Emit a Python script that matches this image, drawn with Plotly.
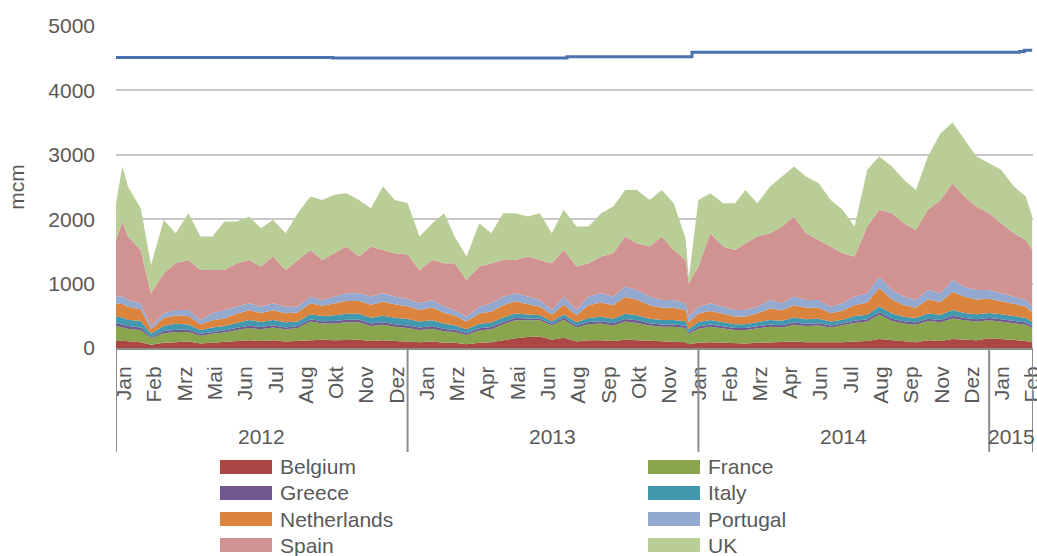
import datetime as dt
import plotly.graph_objects as go

# ---------------- data ----------------
dates = [
    "2012-01-01", "2012-01-09", "2012-01-16", "2012-02-01", "2012-02-14", "2012-03-01", "2012-03-16",
    "2012-04-01", "2012-04-16", "2012-05-01", "2012-05-16", "2012-06-01", "2012-06-16", "2012-07-01",
    "2012-07-16", "2012-08-01", "2012-08-16", "2012-09-01", "2012-09-16", "2012-10-01", "2012-10-16",
    "2012-11-01", "2012-11-16", "2012-12-01", "2012-12-16",
    "2013-01-01", "2013-01-16", "2013-02-01", "2013-02-16", "2013-03-01", "2013-03-16", "2013-04-01",
    "2013-04-16", "2013-05-01", "2013-05-16", "2013-06-01", "2013-06-16", "2013-07-01", "2013-07-16",
    "2013-08-01", "2013-08-16", "2013-09-01", "2013-09-16", "2013-10-01", "2013-10-16", "2013-11-01",
    "2013-11-16", "2013-12-01", "2013-12-16", "2013-12-20",
    "2014-01-01", "2014-01-16", "2014-02-01", "2014-02-16", "2014-03-01", "2014-03-16", "2014-04-01",
    "2014-04-16", "2014-05-01", "2014-05-16", "2014-06-01", "2014-06-16", "2014-07-01", "2014-07-16",
    "2014-08-01", "2014-08-16", "2014-09-01", "2014-09-16", "2014-10-01", "2014-10-16", "2014-11-01",
    "2014-11-16", "2014-12-01", "2014-12-16",
    "2015-01-01", "2015-01-16", "2015-02-01", "2015-02-16", "2015-02-24",
]

belgium = [120, 110, 100, 90, 50, 80, 90, 100, 70, 80, 90, 110, 120, 110, 120, 100, 110, 130, 130, 120, 130, 130, 110, 120, 110,
           100, 90, 100, 80, 80, 60, 80, 90, 120, 150, 170, 180, 130, 160, 100, 120, 120, 110, 130, 120, 110, 100, 100, 90, 60,
           80, 90, 80, 70, 70, 80, 90, 90, 100, 90, 90, 80, 90, 100, 110, 140, 120, 100, 90, 120, 110, 140, 130, 120,
           150, 140, 120, 110, 90]
france = [220, 210, 200, 190, 100, 150, 160, 150, 120, 140, 150, 170, 190, 180, 200, 190, 200, 280, 250, 260, 270, 270, 230, 240, 220,
          210, 190, 200, 180, 170, 140, 190, 200, 250, 280, 260, 250, 220, 280, 220, 250, 260, 240, 280, 270, 240, 230, 230, 220, 160,
          220, 240, 220, 210, 210, 220, 240, 230, 260, 250, 260, 240, 260, 290, 300, 380, 300, 280, 270, 300, 290, 320, 300, 290,
          280, 270, 260, 250, 220]
greece = [40, 45, 40, 40, 20, 35, 35, 35, 30, 30, 30, 35, 35, 35, 35, 30, 30, 35, 35, 40, 40, 40, 40, 40, 40,
          40, 40, 40, 35, 35, 30, 35, 35, 35, 35, 30, 30, 25, 30, 30, 35, 35, 35, 40, 40, 35, 35, 35, 35, 25,
          35, 35, 35, 30, 30, 35, 35, 35, 35, 35, 35, 30, 30, 35, 35, 40, 35, 35, 35, 35, 35, 40, 35, 35,
          35, 35, 35, 35, 30]
italy = [110, 110, 100, 100, 50, 80, 90, 80, 60, 70, 70, 80, 90, 80, 80, 80, 70, 80, 80, 90, 90, 90, 90, 100, 100,
         100, 90, 90, 80, 70, 60, 70, 70, 70, 70, 60, 50, 40, 50, 50, 60, 70, 70, 80, 80, 70, 70, 70, 70, 50,
         70, 70, 70, 60, 60, 70, 70, 70, 80, 70, 70, 60, 60, 70, 70, 90, 80, 70, 70, 80, 80, 90, 80, 80,
         80, 80, 80, 70, 60]
netherlands = [200, 210, 200, 180, 70, 120, 130, 130, 90, 110, 120, 140, 150, 140, 150, 140, 140, 170, 160, 180, 200, 200, 200, 220, 210,
               200, 180, 200, 170, 150, 120, 160, 170, 190, 190, 160, 130, 100, 150, 110, 200, 220, 210, 260, 240, 210, 190, 190, 170, 110,
               130, 140, 130, 120, 120, 130, 180, 160, 190, 180, 170, 130, 140, 170, 190, 280, 220, 180, 160, 220, 200, 280, 250, 230,
               220, 200, 190, 180, 150]
portugal = [108, 113, 106, 94, 42, 74, 85, 95, 65, 109, 130, 107, 109, 97, 109, 102, 92, 103, 91, 108, 120, 120, 128, 130, 118,
            110, 104, 116, 97, 85, 77, 107, 129, 133, 125, 118, 106, 75, 128, 80, 133, 145, 133, 163, 151, 133, 121, 121, 109, 82,
            107, 119, 107, 100, 100, 107, 131, 109, 133, 121, 121, 102, 114, 133, 145, 178, 146, 133, 121, 146, 135, 187, 158, 146,
            136, 125, 113, 101, 92]
spain = [880, 1165, 984, 829, 518, 621, 726, 778, 777, 673, 622, 674, 674, 622, 726, 570, 726, 725, 622, 673, 725, 570, 777, 673, 673,
         690, 518, 622, 674, 726, 570, 622, 622, 570, 518, 622, 622, 726, 725, 674, 518, 570, 673, 777, 726, 777, 984, 777, 674, 518,
         622, 1088, 933, 933, 1037, 1088, 1036, 1192, 1243, 1036, 932, 933, 777, 621, 1036, 1037, 1192, 1139, 1088, 1244, 1450, 1502, 1399, 1295,
         1192, 1087, 984, 932, 881]
uk = [570, 855, 777, 647, 440, 829, 466, 725, 518, 518, 751, 647, 673, 596, 570, 570, 725, 829, 932, 907, 829, 880, 595, 984, 829,
      800, 518, 569, 777, 414, 363, 673, 466, 725, 725, 621, 725, 466, 622, 622, 570, 673, 725, 725, 828, 725, 725, 725, 332, 78,
      1036, 622, 673, 725, 828, 518, 725, 776, 777, 880, 881, 725, 674, 467, 880, 828, 725, 674, 621, 828, 1036, 941, 880, 777,
      777, 829, 725, 674, 518]

capacity_dates = ["2012-01-01", "2012-09-29", "2013-07-20", "2013-12-24", "2015-02-08", "2015-02-14", "2015-02-24"]
capacity_values = [4510, 4503, 4522, 4592, 4605, 4625, 4625]

series_names = ["Belgium", "France", "Greece", "Italy", "Netherlands", "Portugal", "Spain", "UK"]
series_values = [belgium, france, greece, italy, netherlands, portugal, spain, uk]
series_colors = ["#AA4643", "#89A54E", "#71588F", "#4198AF", "#DB843D", "#93A9CF", "#D19392", "#B9CD96"]
month_names = ["Jan", "Feb", "Mrz", "Apr", "Mai", "Jun", "Jul", "Aug", "Sep", "Okt", "Nov", "Dez"]
y_ticks = [0, 1000, 2000, 3000, 4000, 5000]
y_title = "mcm"

# ---------------- styling ----------------
FONT = "Liberation Sans, Arial, sans-serif"
GREY = "#595959"
W, H = 1037, 556
ML, MR, MT, MB = 116, 4, 26, 208
PW, PH = W - ML - MR, H - MT - MB


def px_x(p):
    return (p - ML) / PW


def px_y(p):
    return (H - MB - p) / PH


fig = go.Figure()
for name, vals, col in zip(series_names, series_values, series_colors):
    fig.add_trace(go.Scatter(
        x=dates, y=vals, name=name, mode="lines", stackgroup="flows",
        line=dict(width=0, color=col), fillcolor=col, showlegend=False,
    ))
fig.add_trace(go.Scatter(
    x=capacity_dates, y=capacity_values, name="Capacity", mode="lines",
    line=dict(color="#4A71AD", width=3, shape="hv"), showlegend=False,
))

# x axis: category-like labels every 38 days (as the original label skipping)
start = dt.datetime.fromisoformat(dates[0])
end = dt.datetime.fromisoformat(dates[-1]) + dt.timedelta(days=1)
n_days = (end - start).days
label_step = 38
tick_vals, tick_text = [], []
k = 0
while 10 + label_step * k < n_days:
    d = start + dt.timedelta(days=10.5 + label_step * k)
    tick_vals.append(d)
    tick_text.append(month_names[d.month - 1])
    k += 1

shapes = []
annotations = []
years = sorted({int(d[:4]) for d in dates})
bounds = [start] + [dt.datetime(y, 1, 1) for y in years[1:]] + [end]
for b in bounds:
    shapes.append(dict(type="line", xref="x", yref="paper", x0=b, x1=b, y0=0, y1=px_y(452),
                       line=dict(color="#8C8C8C", width=2)))
for y, a, b in zip(years, bounds[:-1], bounds[1:]):
    annotations.append(dict(x=a + (b - a) / 2, y=px_y(436), xref="x", yref="paper", text=str(y),
                            showarrow=False, xanchor="center", yanchor="middle",
                            font=dict(family=FONT, size=21, color=GREY)))

# legend (two columns, row-major), drawn as swatches + text
for i, (name, col) in enumerate(zip(series_names, series_colors)):
    row, c = divmod(i, 2)
    x0 = 220 + c * 428
    yc = 467 + row * 26
    shapes.append(dict(type="rect", xref="paper", yref="paper", x0=px_x(x0), x1=px_x(x0 + 52),
                       y0=px_y(yc - 7), y1=px_y(yc + 7), line=dict(width=0), fillcolor=col, layer="above"))
    annotations.append(dict(x=px_x(x0 + 58), y=px_y(yc), xref="paper", yref="paper", text=name,
                            showarrow=False, xanchor="left", yanchor="middle",
                            font=dict(family=FONT, size=21, color=GREY)))

fig.update_layout(
    width=W, height=H, margin=dict(l=ML, r=MR, t=MT, b=MB),
    paper_bgcolor="white", plot_bgcolor="white", showlegend=False,
    font=dict(family=FONT, size=21, color=GREY),
    shapes=shapes, annotations=annotations,
    xaxis=dict(type="date", range=[start, end], tickmode="array", tickvals=tick_vals, ticktext=tick_text,
               tickangle=-90, ticks="", ticklabelstandoff=8, ticklabeloverflow="allow",
               showgrid=False, zeroline=False,
               showline=True, linecolor="#8C8C8C", linewidth=2,
               tickfont=dict(family=FONT, size=21, color=GREY), automargin=False),
    yaxis=dict(range=[0, 5000], tickmode="array", tickvals=y_ticks, ticks="", ticklabelstandoff=20,
               showgrid=True, gridcolor="#C8C8C8", gridwidth=2, zeroline=False, showline=False,
               tickfont=dict(family=FONT, size=21, color=GREY), automargin=False,
               title=dict(text=y_title, standoff=17, font=dict(family=FONT, size=21, color=GREY))),
)

fig.write_html("out.html", config={"displayModeBar": False},
               post_script="document.body.style.margin='0px';")
